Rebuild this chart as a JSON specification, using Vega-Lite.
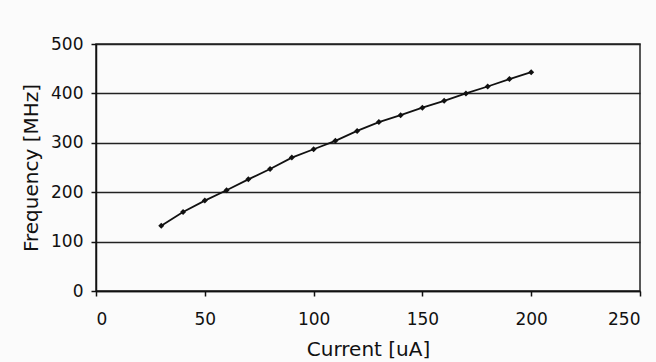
{
  "$schema": "https://vega.github.io/schema/vega-lite/v6.json",
  "autosize": {"type": "none"},
  "width": 544,
  "height": 247,
  "padding": {"left": 96, "top": 44, "right": 16, "bottom": 71},
  "background": "#fbfbfb",
  "config": {
    "font": "DejaVu Sans",
    "view": {"stroke": "#222", "strokeWidth": 1.5},
    "axis": {
      "labelFont": "DejaVu Sans",
      "titleFont": "DejaVu Sans",
      "labelFontSize": 17,
      "titleFontSize": 20,
      "titleFontWeight": "normal",
      "labelColor": "#111",
      "titleColor": "#111",
      "domainColor": "#111",
      "domainWidth": 1.5,
      "tickColor": "#111",
      "tickWidth": 1.5,
      "tickSize": 5
    }
  },
  "data": {
    "values": [
      {"current": 30, "frequency": 132},
      {"current": 40, "frequency": 160},
      {"current": 50, "frequency": 183},
      {"current": 60, "frequency": 204},
      {"current": 70, "frequency": 226},
      {"current": 80, "frequency": 247},
      {"current": 90, "frequency": 270},
      {"current": 100, "frequency": 287},
      {"current": 110, "frequency": 304},
      {"current": 120, "frequency": 324},
      {"current": 130, "frequency": 342},
      {"current": 140, "frequency": 356},
      {"current": 150, "frequency": 371},
      {"current": 160, "frequency": 385},
      {"current": 170, "frequency": 400},
      {"current": 180, "frequency": 414},
      {"current": 190, "frequency": 429},
      {"current": 200, "frequency": 443}
    ]
  },
  "mark": {
    "type": "line",
    "color": "#111",
    "strokeWidth": 1.8,
    "point": {"shape": "diamond", "filled": true, "size": 36, "color": "#111"}
  },
  "encoding": {
    "x": {
      "field": "current",
      "type": "quantitative",
      "title": "Current [uA]",
      "scale": {"domain": [0, 250], "nice": false, "zero": true},
      "axis": {"values": [0, 50, 100, 150, 200, 250], "grid": false, "labelPadding": 15, "titlePadding": 12}
    },
    "y": {
      "field": "frequency",
      "type": "quantitative",
      "title": "Frequency [MHz]",
      "scale": {"domain": [0, 500], "nice": false},
      "axis": {"values": [0, 100, 200, 300, 400, 500], "grid": true, "gridColor": "#222", "gridWidth": 1.5, "gridOpacity": 1, "labelPadding": 8, "titlePadding": 9}
    }
  }
}
